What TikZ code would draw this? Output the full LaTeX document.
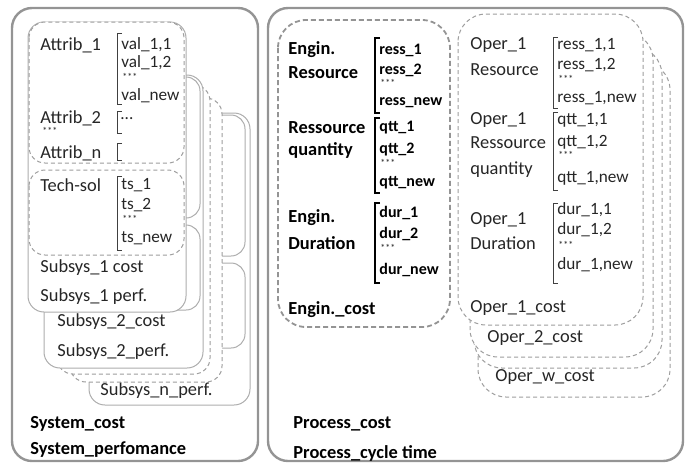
\documentclass[tikz,border=0pt]{standalone}
\usepackage{fontspec}
\setmainfont{Carlito}

\begin{document}
\begin{tikzpicture}[x=0.5pt, y=-0.5pt,
   panel/.style={draw=black!42, line width=1.2pt, rounded corners=10pt},
   subsys/.style={draw=black!32, line width=0.5pt, fill=white, rounded corners=8pt},
   copybox/.style={draw=black!32, line width=0.5pt, rounded corners=7pt},
   dbox/.style={draw=black!38, line width=0.5pt, dash pattern=on 2pt off 1.5pt, fill=white, rounded corners=8pt},
   obox/.style={dbox, rounded corners=14pt},
   txt/.style={anchor=west, inner sep=0pt, text=black!85, font=\fontsize{9.2}{10}\selectfont},
   btxt/.style={txt, text=black, font=\fontsize{9.2}{10}\selectfont\bfseries},
   itm/.style={txt, font=\fontsize{8.6}{10}\selectfont},
   bitm/.style={txt, text=black, font=\fontsize{8}{10}\selectfont\bfseries},
   stars/.style={txt, font=\fontsize{5}{5}\selectfont},
   brk/.style={draw=black!75, line width=0.5pt},
   bbrk/.style={draw=black, line width=0.9pt}]

   \useasboundingbox (0,0) rectangle (688,467);

   \draw[panel] (12,8) rectangle (258,461);
   \draw[panel] (268,8) rectangle (683,461);

   % subsystems, back to front
   \draw[subsys] (89,113) rectangle (250,405);
   \draw[copybox] (90,115) rectangle (245,256);
   \draw[copybox] (90,263) rectangle (245,348);
   \node[txt] (snperf) at (100,391) {Subsys\_n\_perf.};
   \draw[dbox] (70,98) rectangle (222,382);
   \draw[dbox] (57,85) rectangle (210,374);
   \draw[subsys] (44,75) rectangle (203,368);
   \draw[copybox] (45,77) rectangle (200,218);
   \draw[copybox] (45,225) rectangle (200,310);
   \node[txt] (s2cost) at (57,322) {Subsys\_2\_cost};
   \node[txt] (s2perf) at (57,352) {Subsys\_2\_perf.};
   \draw[subsys] (28,22) rectangle (186,312);
   \draw[dbox] (29,22) rectangle (184,163);
   \draw[dbox] (29,170) rectangle (184,255);

   \foreach [count=\i] \t/\y in {Attrib\_1/45, Attrib\_2/118, Attrib\_n/153, Tech-sol/185, Subsys\_1 cost/268, Subsys\_1 perf./297}
     \node[txt] (attr\i) at (40,\y) {\t};
   \node[stars] (attrstars) at (42,131) {***};

   \foreach [count=\i] \t/\y in {{val\_1,1}/45, {val\_1,2}/63, val\_new/96, ts\_1/185, ts\_2/205, ts\_new/238}
     \node[itm] (val\i) at (121,\y) {\t};
   \node[itm] (attr2val) at (120,119) {...};
   \foreach [count=\i] \y in {77, 219}
     \node[stars] (valstars\i) at (122,\y) {***};

   \foreach \x/\a/\b in {117/33/104, 117/111/133, 117/143/160, 117/176/250}
     \draw[brk] ({\x+5},\a) -| (\x,\b) -- ({\x+5},\b);

   \node[btxt] (syscost) at (30,424) {System\_cost};
   \node[btxt] (sysperf) at (30,450) {System\_perfomance};

   % process side
   \draw[dbox, draw=black!42, line width=0.9pt, dash pattern=on 2.5pt off 1.5pt, rounded corners=14pt] (278,20) rectangle (450,327);

   \foreach [count=\i] \t/\y in {Engin./50, Resource/73, Ressource/128, quantity/150, Engin./218, Duration/243, Engin.\_cost/310}
     \node[btxt] (eng\i) at (288,\y) {\t};
   \foreach [count=\i] \t/\y in {ress\_1/50, ress\_2/70, ress\_new/103, qtt\_1/128, qtt\_2/150, qtt\_new/183, dur\_1/213, dur\_2/234, dur\_new/270}
     \node[bitm] (engv\i) at (379,\y) {\t};
   \foreach [count=\i] \y in {83, 163, 248}
     \node[stars] (engstars\i) at (380,\y) {***};
   \foreach \x/\a/\b in {375/38/113, 375/118/193, 375/203/283}
     \draw[bbrk] ({\x+5},\a) -| (\x,\b) -- ({\x+5},\b);

   \draw[obox] (478,62) rectangle (670,397);
   \draw[obox] (474,47) rectangle (662,368);
   \draw[obox] (470,32) rectangle (653,357);
   \draw[obox] (458,14) rectangle (643,325);
   \node[txt] (opwcost) at (495,377) {Oper\_w\_cost};
   \node[txt] (op2cost) at (487,338) {Oper\_2\_cost};

   \foreach [count=\i] \t/\y in {Oper\_1/45, Resource/70, Oper\_1/120, Ressource/143, quantity/170, Oper\_1/220, Duration/243, Oper\_1\_cost/308}
     \node[txt] (op\i) at (470,\y) {\t};
   \foreach [count=\i] \t/\y in {{ress\_1,1}/45, {ress\_1,2}/65, {ress\_1,new}/98, {qtt\_1,1}/120, {qtt\_1,2}/142, {qtt\_1,new}/178, {dur\_1,1}/210, {dur\_1,2}/230, {dur\_1,new}/265}
     \node[itm] (opv\i) at (557,\y) {\t};
   \foreach [count=\i] \y in {79, 155, 245}
     \node[stars] (opstars\i) at (558,\y) {***};
   \foreach \x/\a/\b in {553/37/108, 553/112/190, 553/203/283}
     \draw[brk] ({\x+5},\a) -| (\x,\b) -- ({\x+5},\b);

   \node[btxt] (pcost) at (293,424) {Process\_cost};
   \node[btxt] (ptime) at (293,453) {Process\_cycle time};
\end{tikzpicture}
\end{document}
